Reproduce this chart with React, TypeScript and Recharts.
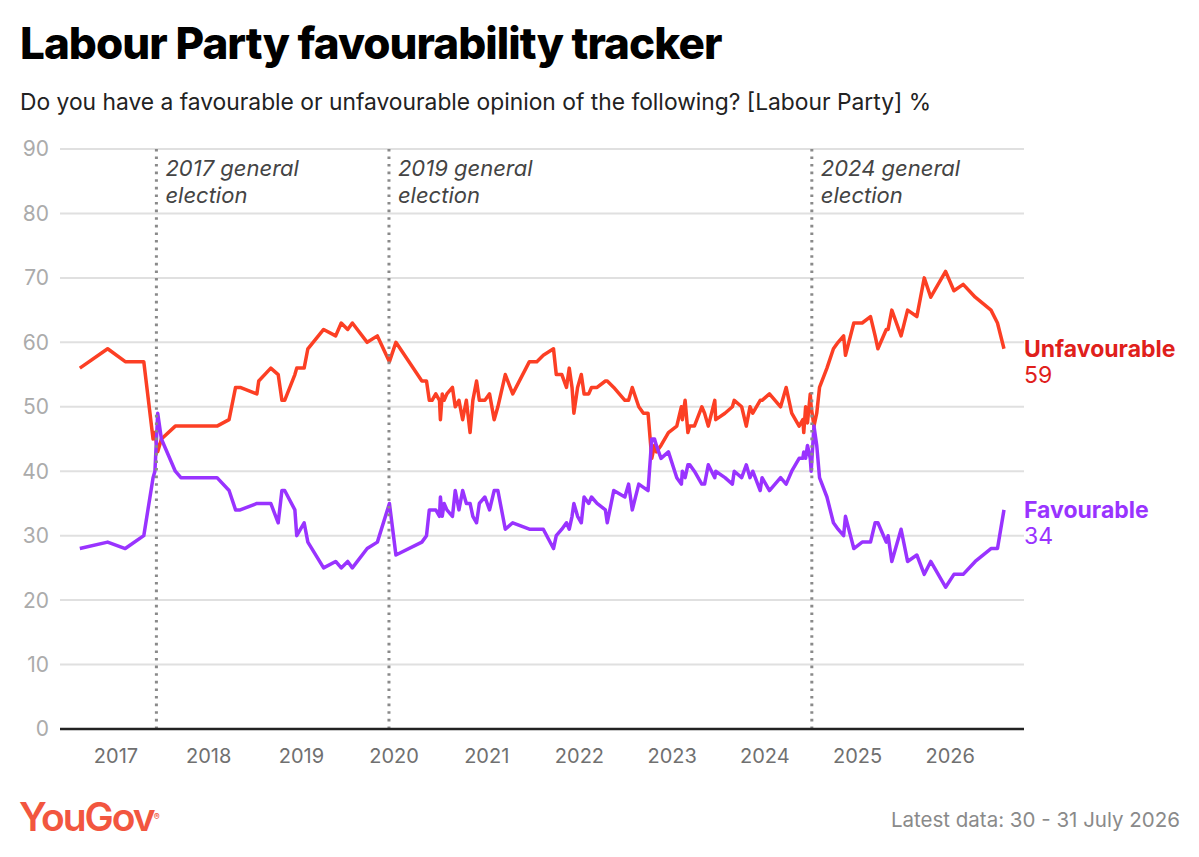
import {
  LineChart,
  Line,
  XAxis,
  YAxis,
  CartesianGrid,
  ReferenceLine,
} from "recharts";

// poll dates as decimal years, with both readings for each poll
const pollDates = [
  2016.61, 2016.91, 2017.1, 2017.3, 2017.4, 2017.42, 2017.45, 2017.49, 2017.64,
  2017.7, 2018.09, 2018.22, 2018.29, 2018.34, 2018.52, 2018.54, 2018.67, 2018.75,
  2018.79, 2018.82, 2018.93, 2018.95, 2019.03, 2019.07, 2019.24, 2019.37, 2019.43,
  2019.5, 2019.55, 2019.71, 2019.82, 2019.95, 2020.02, 2020.3, 2020.35, 2020.38,
  2020.41, 2020.45, 2020.49, 2020.5, 2020.52, 2020.54, 2020.57, 2020.63, 2020.66,
  2020.7, 2020.74, 2020.78, 2020.82, 2020.85, 2020.89, 2020.92, 2020.98, 2021.03,
  2021.08, 2021.12, 2021.2, 2021.28, 2021.46, 2021.54, 2021.61, 2021.72, 2021.75,
  2021.81, 2021.86, 2021.89, 2021.92, 2021.94, 2021.98, 2022.02, 2022.05, 2022.1,
  2022.13, 2022.19, 2022.28, 2022.3, 2022.37, 2022.49, 2022.53, 2022.57, 2022.64,
  2022.69, 2022.74, 2022.78, 2022.81, 2022.83, 2022.88, 2022.96, 2023.05, 2023.1,
  2023.11, 2023.14, 2023.17, 2023.19, 2023.24, 2023.32, 2023.35, 2023.39, 2023.46,
  2023.47, 2023.57, 2023.65, 2023.67, 2023.75, 2023.8, 2023.84, 2023.87, 2023.95,
  2023.97, 2024.05, 2024.17, 2024.23, 2024.29, 2024.37, 2024.41, 2024.42, 2024.44,
  2024.46, 2024.49, 2024.5, 2024.53, 2024.56, 2024.59, 2024.67, 2024.74, 2024.79,
  2024.85, 2024.87, 2024.96, 2025.05, 2025.14, 2025.19, 2025.22, 2025.31, 2025.33,
  2025.37, 2025.47, 2025.54, 2025.64, 2025.72, 2025.79, 2025.95, 2026.04, 2026.14,
  2026.27, 2026.44, 2026.51, 2026.58,
];

const unfavourable = [
  56, 59, 57, 57, 45, 46, 43, 45, 47,
  47, 47, 48, 53, 53, 52, 54, 56, 55,
  51, 51, 55, 56, 56, 59, 62, 61, 63,
  62, 63, 60, 61, 57, 60, 54, 54, 51,
  51, 52, 51, 48, 52, 51, 52, 53, 50,
  51, 48, 51, 46, 51, 54, 51, 51, 52,
  48, 50, 55, 52, 57, 57, 58, 59, 55,
  55, 53, 56, 53, 49, 53, 55, 52, 52,
  53, 53, 54, 54, 53, 51, 51, 53, 50,
  49, 49, 42, 44, 43, 44, 46, 47, 50,
  48, 51, 46, 47, 47, 50, 49, 47, 51,
  48, 49, 50, 51, 50, 47, 50, 49, 51,
  51, 52, 50, 53, 49, 47, 48, 46, 50,
  47.5, 52, 50, 47, 49, 53, 56, 59, 60,
  61, 58, 63, 63, 64, 61, 59, 62, 62,
  65, 61, 65, 64, 70, 67, 71, 68, 69,
  67, 65, 63, 59,
];

const favourable = [
  28, 29, 28, 30, 39, 40, 49, 45, 40,
  39, 39, 37, 34, 34, 35, 35, 35, 32,
  37, 37, 34, 30, 32, 29, 25, 26, 25,
  26, 25, 28, 29, 35, 27, 29, 30, 34,
  34, 34, 33, 36, 33, 35, 34, 33, 37,
  34, 37, 35, 35, 33, 32, 35, 36, 34,
  37, 37, 31, 32, 31, 31, 31, 28, 30,
  31, 32, 31, 33, 35, 33, 32, 36, 35,
  36, 35, 34, 32, 37, 36, 38, 34, 38,
  37.5, 37, 45, 45, 44, 42, 43, 39, 38,
  40, 39, 41, 41, 40, 38, 38, 41, 39,
  40, 39, 38, 40, 39, 41, 39, 40, 37,
  39, 37, 39, 38, 40, 42, 42, 43, 42,
  44, 42, 40, 47, 44, 39, 36, 32, 31,
  30, 33, 28, 29, 29, 32, 32, 29, 30,
  26, 31, 26, 27, 24, 26, 22, 24, 24,
  26, 28, 28, 34,
];

const yearTicks = [2017, 2018, 2019, 2020, 2021, 2022, 2023, 2024, 2025, 2026];
const valueTicks = [0, 10, 20, 30, 40, 50, 60, 70, 80, 90];

const electionDates = [2017.436, 2019.945, 2024.507];
const electionLabels = ["2017 general", "2019 general", "2024 general"];

const data = pollDates.map((t, i) => ({
  t,
  unfav: unfavourable[i],
  fav: favourable[i],
}));

const FONT = "Inter, 'Noto Sans', sans-serif";
const RED = "#fc3f24";
const PURPLE = "#9933ff";

function ElectionLabel(props: any) {
  const { viewBox, line1 } = props;
  if (!viewBox) return null;
  const x = viewBox.x + 9;
  const y = viewBox.y;
  return (
    <text
      x={x}
      y={y + 27}
      fill="#444"
      fontFamily={FONT}
      fontSize={22}
      fontStyle="italic"
    >
      <tspan x={x} y={y + 27}>{line1}</tspan>
      <tspan x={x} y={y + 54}>election</tspan>
    </text>
  );
}

function endLabel(name: string, color: string) {
  return (props: any) => {
    const { x, y, index, value } = props;
    if (index !== data.length - 1) return <g key={index} />;
    return (
      <g key={index}>
        <text x={x + 20} y={y + 8} fill={color} fontFamily={FONT} fontSize={23} fontWeight={700}>
          {name}
        </text>
        <text x={x + 20} y={y + 34} fill={color} fontFamily={FONT} fontSize={23}>
          {value}
        </text>
      </g>
    );
  };
}

export default function App() {
  return (
    <div style={{ position: "relative", width: 1199, height: 857, background: "#fff", fontFamily: FONT }}>
      <style>{`body{margin:0}`}</style>
      <div
        style={{
          position: "absolute",
          left: 20,
          top: 21,
          fontSize: 44,
          lineHeight: "44px",
          fontWeight: 800,
          color: "#000",
          letterSpacing: -0.95,
          whiteSpace: "nowrap",
        }}
      >
        Labour Party favourability tracker
      </div>
      <div
        style={{
          position: "absolute",
          left: 20,
          top: 90,
          fontSize: 22.8,
          lineHeight: "23px",
          color: "#222",
          whiteSpace: "nowrap",
        }}
      >
        Do you have a favourable or unfavourable opinion of the following? [Labour Party] %
      </div>

      <LineChart
        width={1199}
        height={857}
        data={data}
        margin={{ top: 149, right: 175, bottom: 0, left: 0 }}
      >
        <CartesianGrid vertical={false} stroke="#e0e0e0" strokeWidth={2} />
        <XAxis
          dataKey="t"
          type="number"
          domain={[2016.396, 2026.796]}
          ticks={yearTicks}
          allowDataOverflow
          height={128}
          tickLine={false}
          tickSize={0}
          tickMargin={20}
          axisLine={{ stroke: "#222", strokeWidth: 2.5 }}
          tick={{ fill: "#707070", fontSize: 20, fontFamily: FONT }}
        />
        <YAxis
          type="number"
          domain={[0, 90]}
          ticks={valueTicks}
          width={60}
          axisLine={false}
          tickLine={false}
          tickSize={0}
          tickMargin={11}
          tick={{ fill: "#ababab", fontSize: 21, fontFamily: FONT }}
        />
        <Line
          dataKey="unfav"
          stroke={RED}
          strokeWidth={3.5}
          dot={false}
          type="linear"
          strokeLinejoin="round"
          isAnimationActive={false}
          label={endLabel("Unfavourable", "#e0201b")}
        />
        <Line
          dataKey="fav"
          stroke={PURPLE}
          strokeWidth={3.5}
          dot={false}
          type="linear"
          strokeLinejoin="round"
          isAnimationActive={false}
          label={endLabel("Favourable", PURPLE)}
        />
        {electionDates.map((d, i) => (
          <ReferenceLine
            key={d}
            x={d}
            stroke="#8a8a8a"
            strokeWidth={3}
            strokeDasharray="2.6 5"
            label={<ElectionLabel line1={electionLabels[i]} />}
          />
        ))}
      </LineChart>

      <div
        style={{
          position: "absolute",
          left: 19,
          top: 797,
          fontSize: 39,
          lineHeight: "39px",
          fontWeight: 600,
          color: "#f2563f",
          letterSpacing: -2,
        }}
      >
        YouGov<span style={{ fontSize: 9, verticalAlign: "top", letterSpacing: 0 }}>®</span>
      </div>
      <div
        style={{
          position: "absolute",
          right: 19,
          top: 810,
          fontSize: 20.5,
          lineHeight: "20px",
          color: "#8a8a8a",
          whiteSpace: "nowrap",
        }}
      >
        Latest data: 30 - 31 July 2026
      </div>
    </div>
  );
}
